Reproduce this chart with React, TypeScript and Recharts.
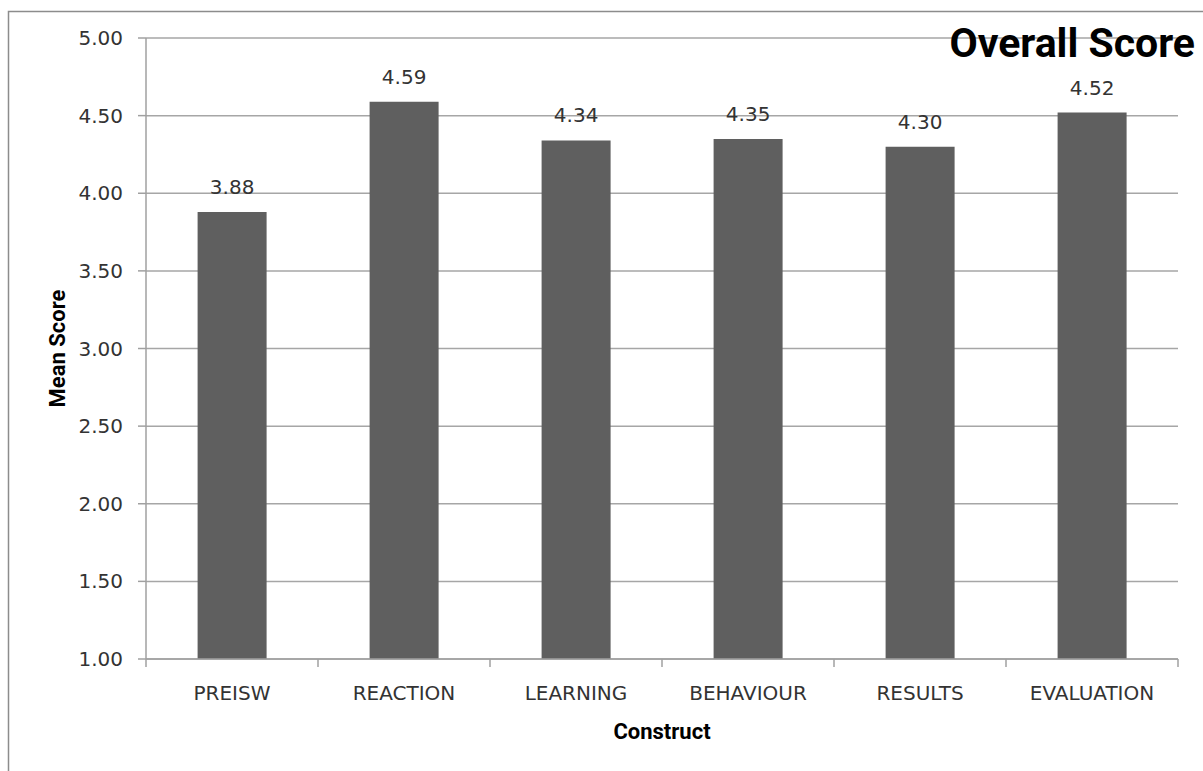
import { Bar, BarChart, CartesianGrid, Label, LabelList, XAxis, YAxis } from "recharts";

const constructs = ["PREISW", "REACTION", "LEARNING", "BEHAVIOUR", "RESULTS", "EVALUATION"];
const meanScores = [3.88, 4.59, 4.34, 4.35, 4.3, 4.52];
const scoreTicks = [1, 1.5, 2, 2.5, 3, 3.5, 4, 4.5, 5];

const rows = constructs.map((name, i) => ({ name, score: meanScores[i] }));

const W = 1203;
const H = 771;
const TICK_SIZE = 8;
const X_TICK_MARGIN = 18;
const tickFont = "'DejaVu Sans', Verdana, sans-serif";
const titleFont = "Roboto, 'Liberation Sans', sans-serif";

// excel style: tick marks sit between categories, labels in the middle
function CategoryTick(props: any) {
  const { x, y, payload, index, visibleTicksCount } = props;
  const half = payload?.offset ?? 0;
  const top = y - X_TICK_MARGIN - TICK_SIZE;
  const bottom = y - X_TICK_MARGIN;
  return (
    <g>
      <line x1={x - half} x2={x - half} y1={top} y2={bottom} stroke="#a0a0a0" strokeWidth={1.5} />
      {index === visibleTicksCount - 1 && (
        <line x1={x + half} x2={x + half} y1={top} y2={bottom} stroke="#a0a0a0" strokeWidth={1.5} />
      )}
      <text x={x} y={y} dy={15} textAnchor="middle" fill="#333" fontSize={20} fontFamily={tickFont}>
        {payload.value}
      </text>
    </g>
  );
}

function MeanScoreLabel(props: any) {
  const vb = props.viewBox;
  const cx = vb.x + 65;
  const cy = vb.y + vb.height / 2;
  return (
    <text
      x={cx}
      y={cy}
      transform={`rotate(-90, ${cx}, ${cy})`}
      textAnchor="middle"
      fontFamily={titleFont}
      fontWeight="bold"
      fontSize={22}
      fill="#000"
    >
      Mean Score
    </text>
  );
}

export default function App() {
  return (
    <div style={{ position: "fixed", left: 0, top: 0, width: W, height: H, overflow: "hidden", background: "#fff" }}>
      <BarChart
        width={W}
        height={H}
        data={rows}
        margin={{ top: 38, right: 25, bottom: 0, left: 0 }}
        barCategoryGap="30%"
      >
        <CartesianGrid vertical={false} stroke="#a6a6a6" strokeWidth={1.5} />
        <XAxis
          dataKey="name"
          height={112}
          stroke="#a0a0a0"
          strokeWidth={1.5}
          tickLine={false}
          tickSize={TICK_SIZE}
          tickMargin={X_TICK_MARGIN}
          interval={0}
          tick={CategoryTick}
        >
          <Label
            value="Construct"
            position="insideBottom"
            offset={32}
            fontFamily={titleFont}
            fontWeight="bold"
            fontSize={22}
            fill="#000"
          />
        </XAxis>
        <YAxis
          width={146}
          domain={[1, 5]}
          ticks={scoreTicks}
          interval={0}
          stroke="#a0a0a0"
          strokeWidth={1.5}
          tickSize={TICK_SIZE}
          tickMargin={15}
          tickFormatter={(v: number) => v.toFixed(2)}
          tick={{ fill: "#333", fontSize: 20, fontFamily: tickFont }}
        >
          <Label content={MeanScoreLabel} />
        </YAxis>
        <Bar dataKey="score" fill="#5f5f5f" isAnimationActive={false}>
          <LabelList
            dataKey="score"
            position="top"
            offset={18}
            formatter={(v: any) => Number(v).toFixed(2)}
            fill="#333"
            fontSize={20}
            fontFamily={tickFont}
          />
        </Bar>
      </BarChart>
      <svg width={W} height={H} style={{ position: "absolute", left: 0, top: 0, pointerEvents: "none" }}>
        <rect x={8.5} y={11.5} width={1400} height={1000} fill="none" stroke="#8c8c8c" strokeWidth={1.5} />
        <text x={1195} y={57} textAnchor="end" fontFamily={titleFont} fontWeight="bold" fontSize={41} fill="#000">
          Overall Score
        </text>
      </svg>
    </div>
  );
}
